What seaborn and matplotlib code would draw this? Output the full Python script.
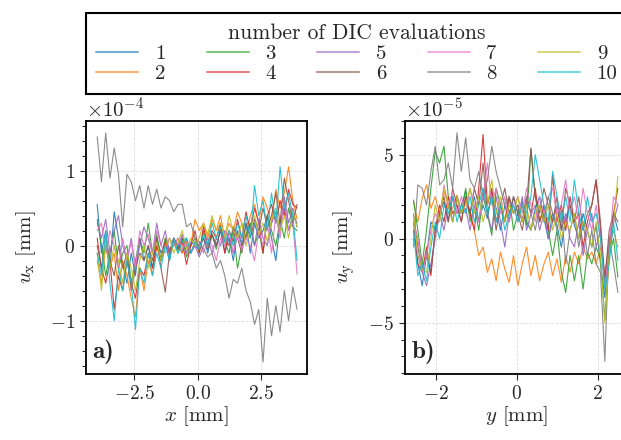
import numpy as np
import pandas as pd
import matplotlib.pyplot as plt
import seaborn as sns

# displacement profiles (left: u_x in 1e-4 mm, right: u_y in 1e-5 mm)
x_left = np.linspace(-3.95, 3.9, 48)
y_right = np.linspace(-2.55, 2.5, 48)

ux_1 = [0.55, -0.10, 0.20, -0.30, 0.45, 0.10, -0.25, -0.50, -0.10, -0.40, 0.10, -0.20,
        0.00, -0.30, 0.10, -0.10, 0.05, -0.20, 0.10, 0.00, -0.10, 0.10, -0.10, 0.00,
        -0.05, 0.10, -0.10, 0.15, 0.00, 0.20, -0.10, 0.10, -0.20, 0.20, 0.00, 0.30,
        -0.10, 0.30, 0.10, 0.20, 0.40, 0.10, -0.20, 0.30, 0.50, 0.20, 0.40, 0.30]
ux_2 = [-0.20, -0.50, 0.00, -0.30, -0.10, -0.60, -0.20, -0.40, -0.70, -0.95, -0.30, -0.60,
        -0.20, -0.40, 0.00, -0.20, 0.10, -0.10, 0.00, 0.10, -0.10, 0.05, 0.00, 0.35,
        0.20, 0.30, 0.10, 0.35, 0.20, 0.40, 0.10, 0.30, 0.20, 0.45, 0.30, 0.10,
        0.40, 0.55, 0.30, 0.65, 0.50, 0.30, 0.75, 0.50, 0.70, 1.05, 0.60, 0.35]
ux_3 = [0.35, 0.00, -0.40, -0.10, 0.20, -0.30, -0.10, 0.00, -0.50, -0.20, 0.10, -0.10,
        0.30, -0.10, 0.15, -0.20, 0.10, -0.05, 0.05, -0.10, 0.10, -0.15, 0.00, 0.10,
        -0.10, 0.20, 0.00, 0.15, -0.05, 0.25, 0.05, -0.10, 0.20, -0.30, 0.00, 0.15,
        0.30, 0.00, 0.20, -0.10, 0.40, 0.20, 0.00, 0.35, 0.10, 0.50, 0.25, 0.20]
ux_4 = [0.10, -0.30, -0.50, -0.20, -0.85, -0.40, -0.60, -0.20, -0.50, -0.70, -0.30, -0.40,
        -0.10, -0.30, 0.00, -0.20, 0.05, -0.10, 0.10, -0.05, 0.05, -0.25, 0.00, 0.20,
        -0.10, 0.25, 0.00, 0.20, 0.10, 0.30, -0.10, 0.20, 0.05, 0.35, 0.10, 0.45,
        0.20, 0.50, 0.30, -0.10, 0.40, 0.55, 0.30, 0.60, 0.40, 0.75, 0.55, 0.50]
ux_5 = [0.30, 0.10, 0.35, -0.10, 0.20, 0.40, 0.00, -0.20, 0.10, -0.30, 0.00, 0.25,
        0.10, -0.10, 0.30, 0.00, 0.20, -0.10, 0.10, 0.00, 0.15, -0.10, 0.05, 0.00,
        -0.15, 0.00, 0.10, -0.10, 0.10, 0.00, 0.20, 0.10, -0.10, 0.20, 0.05, 0.10,
        0.25, 0.00, 0.35, 0.10, 0.00, 0.30, 0.45, 0.20, 0.65, 0.30, 0.50, 0.25]
ux_6 = [0.00, -0.30, 0.10, -0.20, -0.40, 0.00, -0.30, -0.10, -0.60, -0.30, -0.10, -0.20,
        0.00, -0.20, 0.10, -0.30, -0.62, -0.10, 0.10, -0.05, 0.10, 0.00, -0.10, 0.05,
        0.00, 0.10, -0.05, 0.15, 0.00, 0.20, 0.10, 0.00, 0.25, 0.10, -0.10, 0.30,
        0.10, 0.35, 0.20, 0.50, 0.25, 0.40, 0.70, 0.30, 0.90, 0.60, 0.30, 0.55]
ux_7 = [0.20, 0.30, -0.10, 0.20, 0.00, -0.30, 0.10, -0.20, 0.05, -0.30, 0.20, 0.00,
        0.15, -0.10, 0.20, 0.00, -0.10, 0.10, 0.00, 0.10, -0.05, 0.05, -0.10, 0.00,
        0.05, -0.10, 0.10, 0.00, -0.20, 0.10, 0.00, 0.20, -0.10, 0.15, -0.05, 0.10,
        0.00, -0.20, 0.20, 0.00, 0.30, -0.10, 0.40, 0.10, 0.60, 0.20, 0.30, -0.38]
ux_8 = [1.45, 0.85, 1.50, 0.90, 1.30, 0.95, 0.25, 0.95, 0.85, 0.60, 0.80, 0.50,
        0.80, 0.55, 0.75, 0.50, 0.65, 0.60, 0.45, 0.55, 0.55, 0.25, 0.30, 0.10,
        0.05, -0.05, -0.15, -0.10, -0.30, -0.20, -0.40, -0.70, -0.45, -0.50, -0.30, -0.60,
        -0.75, -1.05, -0.85, -1.55, -0.70, -1.20, -0.80, -1.15, -0.60, -1.00, -0.55, -0.85]
ux_9 = [-0.10, -0.60, 0.10, -0.30, 0.00, -0.20, -0.50, -0.10, -0.30, -0.60, -0.20, 0.00,
        -0.30, -0.10, 0.05, -0.20, 0.00, 0.10, -0.10, 0.05, 0.20, -0.05, 0.10, 0.00,
        0.10, 0.30, 0.15, 0.40, 0.20, 0.30, 0.10, 0.40, 0.20, 0.10, 0.30, 0.00,
        0.20, 0.40, 0.15, 0.30, 0.05, 0.35, 0.50, 0.20, 0.40, 0.10, 0.45, 0.25]
ux_10 = [-0.10, -0.40, 0.20, -0.50, -1.00, -0.30, -0.60, -0.20, -0.50, -1.12, -0.30, -0.50,
         -0.10, -0.40, -0.10, -0.30, 0.00, -0.20, 0.10, -0.10, 0.05, 0.10, -0.10, 0.05,
         -0.05, 0.15, 0.00, 0.30, 0.10, 0.25, 0.05, 0.20, 0.00, 0.30, 0.10, 0.40,
         0.10, 0.80, 0.40, 0.60, 0.20, 0.70, 0.30, 1.05, 0.50, 0.70, 0.40, -0.20]

uy_1 = [0.50, -1.50, -2.80, -1.00, 1.00, 0.50, 1.50, 2.20, 1.00, 2.50, 1.50, 2.00,
        2.80, 1.50, 2.50, 1.00, 2.00, 1.20, 2.80, 1.80, 0.50, 2.00, 1.00, 2.50,
        1.50, 2.20, 1.00, 0.50, 1.80, 2.50, 1.20, 0.00, 1.50, 0.80, -0.50, 1.20,
        2.00, 0.80, 0.00, 1.50, 0.50, -0.50, 0.80, -1.50, -3.50, -0.50, 1.50, 0.50]
uy_2 = [2.20, 1.00, 2.40, 3.20, 1.80, 2.50, 1.50, 2.80, 2.00, 1.80, 2.60, 1.50,
        2.20, 1.60, 0.50, -1.00, -0.50, -2.00, -1.20, -2.50, -0.80, -1.80, -2.60, -1.00,
        -2.80, -1.50, -0.50, -2.20, -1.00, -2.50, -1.50, -0.80, -2.20, -1.20, -2.60, -1.00,
        -2.00, -0.80, -1.50, -0.50, -1.20, -0.80, -1.50, -0.50, -2.00, -0.50, 0.50, -0.50]
uy_3 = [2.30, 0.50, -1.50, 0.50, 3.00, 5.20, 4.50, 5.50, 2.50, 1.00, 2.50, 1.50,
        3.00, 1.00, 2.00, 0.50, 2.50, 1.50, 0.20, 3.00, 2.00, 1.00, 2.50, 0.50,
        1.50, 2.00, 0.80, 5.30, 2.50, 1.00, 1.80, 0.50, -1.00, 0.50, -2.00, -3.20,
        -1.00, -2.50, -1.00, -3.00, -0.80, -1.50, -0.50, -1.20, -4.80, -1.00, 0.00, -2.30]
uy_4 = [1.00, -1.50, -2.00, -0.50, -2.20, 0.50, 2.00, 1.00, 2.50, 1.50, 2.00, 1.00,
        2.50, 1.50, 0.50, 3.00, 6.20, 2.00, 3.00, 1.00, 2.00, 1.00, 2.50, 1.50,
        2.00, 1.00, 2.50, 1.50, 3.00, 1.00, 2.00, 0.50, 3.80, 1.00, 2.00, 0.50,
        2.50, 1.00, 1.50, -0.50, 1.00, 2.00, 3.50, 0.50, -3.00, -1.00, 1.50, 3.00]
uy_5 = [0.00, -1.00, -2.00, -2.80, -1.50, 0.00, 1.50, 0.50, 2.00, 1.00, 2.50, 1.50,
        1.80, 0.50, 2.00, 1.00, 3.00, 1.50, 0.50, 2.50, 1.00, -0.50, 1.50, 2.00,
        1.00, 2.50, 0.50, 1.50, 2.00, 0.50, 1.50, 0.00, 1.00, 2.00, 0.50, 1.50,
        0.00, -0.50, 1.00, -1.00, 0.50, 1.50, -0.50, 0.50, -2.50, 0.00, 1.00, 2.00]
uy_6 = [1.50, -0.50, -1.80, -1.00, -2.00, 0.50, 1.50, 2.50, 1.00, 3.00, 2.00, 1.00,
        2.50, 1.50, 3.00, 2.00, 4.50, 1.50, 2.50, 0.50, 2.00, 3.00, 1.50, 2.50,
        1.50, 0.50, 2.00, 5.40, 2.50, 1.50, 3.00, 2.00, 1.00, 2.50, 0.50, 3.00,
        2.00, 1.00, 2.50, 0.50, 1.50, 2.00, 3.50, 1.00, -2.50, 0.50, 1.50, 1.00]
uy_7 = [1.00, 0.00, -2.00, -1.00, 0.50, 1.50, 1.00, 3.20, 2.00, 2.80, 1.50, 2.50,
        1.50, 3.00, 2.00, 1.00, 2.50, 4.50, 2.00, 3.00, 1.50, 2.50, 1.00, 2.00,
        2.50, 1.50, 3.00, 2.00, 1.00, 2.50, 1.50, 2.50, 3.00, 1.50, 2.00, 3.50,
        1.50, 2.50, 1.00, 3.00, 1.50, 0.50, 2.00, 0.00, -3.00, -0.50, 2.50, 2.00]
uy_8 = [-0.50, 3.20, 3.00, 2.00, 4.00, 5.50, 3.20, 3.50, 4.50, 3.00, 6.30, 4.00,
        6.00, 3.50, 3.00, 4.00, 2.50, 3.50, 5.50, 4.00, 3.00, 2.00, 2.50, 1.50,
        2.00, 1.00, 2.50, 1.50, 0.50, 2.00, 1.00, 2.50, 1.50, 0.50, 1.70, -1.50,
        0.50, 1.50, -0.50, 1.00, -1.00, 0.50, -1.50, -2.00, -7.30, 0.00, -1.50, -3.20]
uy_9 = [1.50, -1.00, -1.80, -2.00, 0.00, 2.00, 1.00, 3.00, 2.00, 1.00, 2.50, 1.50,
        2.00, 3.00, 1.50, 2.50, 1.00, 2.00, 3.50, 1.50, 2.50, 1.00, 2.00, 1.50,
        2.50, 1.00, 2.00, 0.50, 1.50, 2.00, 1.00, 2.00, 0.50, 1.50, 0.00, 1.00,
        0.50, 1.50, 0.00, 1.00, 0.50, -0.50, 1.00, -1.00, -5.00, -1.00, 1.00, 3.70]
uy_10 = [0.50, -2.20, -1.50, -2.50, -0.50, 1.00, 0.00, 2.00, 1.50, 2.50, 1.00, 2.00,
         1.50, 2.50, 1.00, 2.00, 3.00, 1.50, 2.50, 1.00, 2.00, 0.50, 1.50, 2.00,
         1.00, 2.00, 1.50, 2.50, 5.00, 3.50, 2.00, 1.00, 4.00, 2.50, 1.00, 2.50,
         1.00, 3.50, 1.50, 0.50, 2.50, 1.00, 1.50, 0.00, -3.00, -1.50, 1.00, -1.30]

ux_all = [ux_1, ux_2, ux_3, ux_4, ux_5, ux_6, ux_7, ux_8, ux_9, ux_10]
uy_all = [uy_1, uy_2, uy_3, uy_4, uy_5, uy_6, uy_7, uy_8, uy_9, uy_10]
labels = [str(i) for i in range(1, 11)]

# long-form tables for seaborn
df_x = pd.concat([pd.DataFrame({"pos": x_left, "u": np.array(v) * 1e-4, "n": lab})
                  for v, lab in zip(ux_all, labels)])
df_y = pd.concat([pd.DataFrame({"pos": y_right, "u": np.array(v) * 1e-5, "n": lab})
                  for v, lab in zip(uy_all, labels)])

sns.set_style("ticks")
plt.rcParams["font.family"] = "serif"
plt.rcParams["font.serif"] = ["cmr10"]
plt.rcParams["mathtext.fontset"] = "cm"
plt.rcParams["axes.formatter.use_mathtext"] = True
plt.rcParams["axes.unicode_minus"] = True
plt.rcParams["font.size"] = 14

palette = sns.color_palette("tab10", 10)

fig = plt.figure(figsize=(6.21, 4.4), dpi=100)
ax1 = fig.add_axes([86 / 621, 1 - 374 / 440, 221 / 621, 253 / 440])
ax2 = fig.add_axes([405 / 621, 1 - 374 / 440, 223 / 621, 253 / 440])

for ax, df, lab, xl, tag, minor in [
    (ax1, df_x, r"$u_\mathrm{x}$ [mm]", r"$x$ [mm]", "a)", 0.2e-4),
    (ax2, df_y, r"$u_\mathrm{y}$ [mm]", r"$y$ [mm]", "b)", 1e-5),
]:
    sns.lineplot(data=df, x="pos", y="u", hue="n", palette=palette, estimator=None,
                 sort=False, linewidth=0.8, alpha=0.9, legend=False, ax=ax)
    ax.set_xlabel(xl, fontsize=15, labelpad=1)
    ax.set_ylabel(lab, fontsize=15, labelpad=8)
    ax.grid(True, color="#dddddd", linestyle="--", linewidth=0.6)
    ax.yaxis.set_minor_locator(plt.MultipleLocator(minor))
    ax.ticklabel_format(axis="y", style="sci", scilimits=(0, 0), useMathText=True)
    ax.yaxis.get_offset_text().set_fontsize(15)
    ax.tick_params(which="major", length=4.5, width=0.8, labelsize=14)
    ax.tick_params(which="minor", length=3, width=0.8)
    for s in ax.spines.values():
        s.set_linewidth(1.3)
        s.set_color("black")
    ax.text(0.03, 0.04, tag, transform=ax.transAxes, fontsize=18, va="bottom",
            ha="left", fontfamily="cmb10")

ax1.set_xlim(-4.39, 4.29)
ax1.set_ylim(-1.71e-4, 1.66e-4)
ax1.set_xticks([-2.5, 0.0, 2.5])
ax1.set_yticks([-1e-4, 0, 1e-4])
ax2.set_xlim(-2.76, 2.75)
ax2.set_ylim(-8.05e-5, 7.0e-5)
ax2.set_xticks([-2, 0, 2])
ax2.set_yticks([-5e-5, 0, 5e-5])
ax2.xaxis.set_major_formatter(plt.FormatStrFormatter("$%d$"))

handles = [plt.Line2D([], [], color=c, lw=1.5, alpha=0.6) for c in palette]
top = 1 - 13 / 440
leg = fig.legend(handles, labels, ncol=5, loc="upper left",
                 bbox_to_anchor=(86 / 621, top - 0.2, 542 / 621, 0.2),
                 mode="expand", title="number of DIC evaluations", fontsize=15,
                 title_fontsize=15.5, handlelength=2.0, handletextpad=0.8,
                 labelspacing=0.08, borderpad=0.5, borderaxespad=0,
                 fancybox=False, framealpha=1)
leg.get_frame().set_edgecolor("black")
leg.get_frame().set_linewidth(1.5)

fig.savefig("out.png", dpi=100)
